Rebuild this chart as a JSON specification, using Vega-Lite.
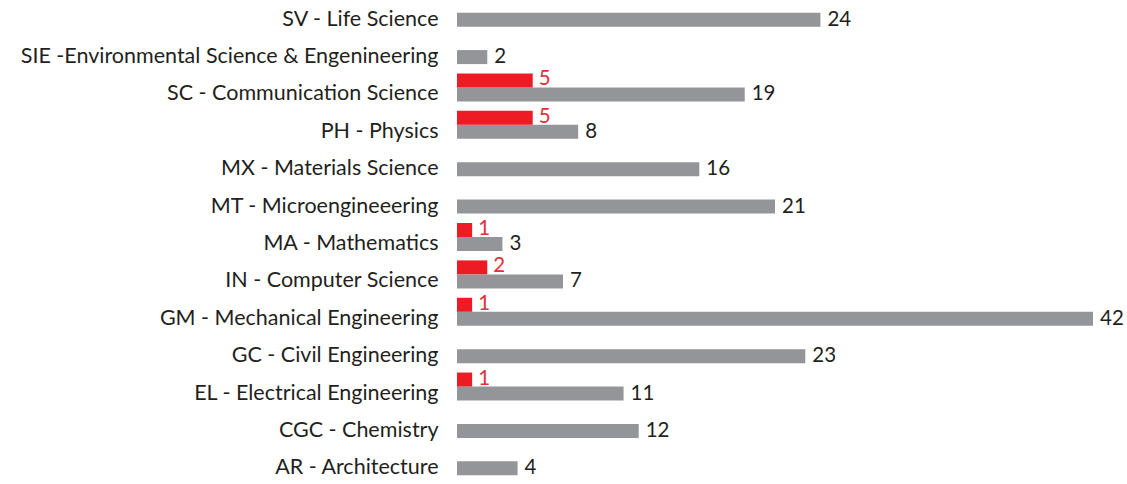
{
  "$schema": "https://vega.github.io/schema/vega-lite/v6.json",
  "width": 636,
  "height": 486,
  "autosize": {"type": "none"},
  "padding": {"left": 457, "top": 1, "right": 34, "bottom": 0},
  "background": "white",
  "config": {"view": {"stroke": null}, "font": "Lato"},
  "data": {
    "values": [
      {"dept": "SV - Life Science", "total": 24, "red": null},
      {"dept": "SIE -Environmental Science & Engenineering", "total": 2, "red": null},
      {"dept": "SC - Communication Science", "total": 19, "red": 5},
      {"dept": "PH - Physics", "total": 8, "red": 5},
      {"dept": "MX - Materials Science", "total": 16, "red": null},
      {"dept": "MT - Microengineeering", "total": 21, "red": null},
      {"dept": "MA - Mathematics", "total": 3, "red": 1},
      {"dept": "IN - Computer Science", "total": 7, "red": 2},
      {"dept": "GM - Mechanical Engineering", "total": 42, "red": 1},
      {"dept": "GC - Civil Engineering", "total": 23, "red": null},
      {"dept": "EL - Electrical Engineering", "total": 11, "red": 1},
      {"dept": "CGC - Chemistry", "total": 12, "red": null},
      {"dept": "AR - Architecture", "total": 4, "red": null}
    ]
  },
  "encoding": {
    "y": {
      "field": "dept",
      "type": "nominal",
      "sort": null,
      "scale": {"paddingInner": 0, "paddingOuter": 0},
      "axis": {
        "title": null,
        "domain": false,
        "ticks": false,
        "grid": false,
        "labelPadding": 19,
        "labelFontSize": 21.5,
        "labelColor": "#231f20",
        "labelFont": "Lato",
        "labelLimit": 600
      }
    }
  },
  "layer": [
    {
      "mark": {"type": "bar", "height": 14, "color": "#939598"},
      "encoding": {
        "x": {"field": "total", "type": "quantitative", "scale": {"domain": [0, 42], "nice": false}, "axis": null}
      }
    },
    {
      "mark": {"type": "text", "align": "left", "baseline": "middle", "dx": 7, "fontSize": 20.5, "color": "#231f20"},
      "encoding": {
        "x": {"field": "total", "type": "quantitative"},
        "text": {"field": "total", "type": "quantitative"}
      }
    },
    {
      "transform": [{"filter": "datum.red != null"}],
      "mark": {"type": "bar", "height": 14, "yOffset": -14, "color": "#ed1c24"},
      "encoding": {
        "x": {"field": "red", "type": "quantitative"}
      }
    },
    {
      "transform": [{"filter": "datum.red != null"}],
      "mark": {"type": "text", "align": "left", "baseline": "middle", "dx": 6, "yOffset": -15, "fontSize": 20.5, "color": "#e0303a"},
      "encoding": {
        "x": {"field": "red", "type": "quantitative"},
        "text": {"field": "red", "type": "quantitative"}
      }
    }
  ]
}
